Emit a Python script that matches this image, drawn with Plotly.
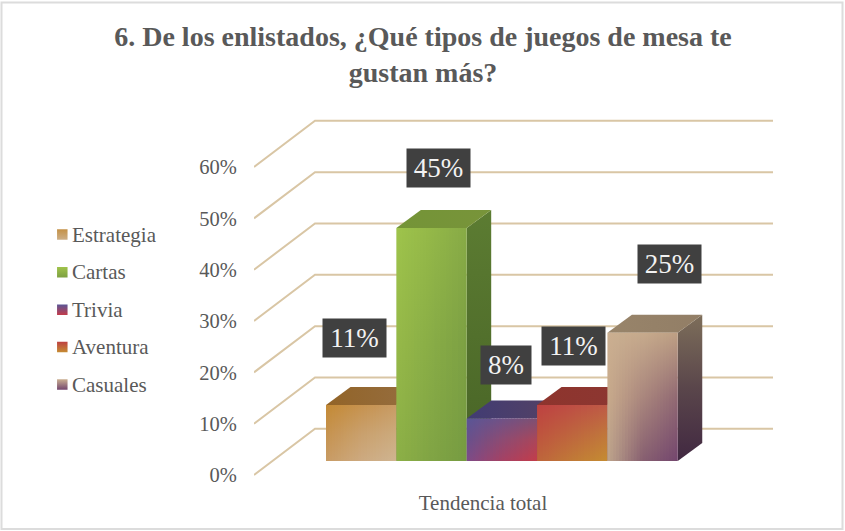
import plotly.graph_objects as go

# ---- data ----
categories = ["Estrategia", "Cartas", "Trivia", "Aventura", "Casuales"]
values = [10.9, 45.4, 8.3, 10.9, 25.0]
y_ticks = [0, 10, 20, 30, 40, 50, 60]
y_tick_labels = ["0%", "10%", "20%", "30%", "40%", "50%", "60%"]
x_category = "Tendencia total"
title_text = "6. De los enlistados, ¿Qué tipos de juegos de mesa te<br>gustan más?"

# ---- style: colours of each bar face (rows top/mid/bottom, columns left/mid/right) ----
front_colors = [
    [[(196,138,53),(198,146,78),(200,155,100)], [(198,146,78),(201,160,108),(204,170,125)], [(200,155,100),(205,170,128),(207,180,145)]],
    [[(158,195,75),(148,184,72),(135,170,70)], [(150,185,72),(136,172,70),(124,160,67)], [(140,175,70),(128,164,68),(118,155,65)]],
    [[(90,85,150),(110,82,135),(125,80,115)], [(105,80,140),(140,75,115),(170,70,90)], [(125,75,135),(165,65,100),(195,60,75)]],
    [[(190,65,65),(190,78,68),(190,90,70)], [(190,82,62),(190,100,62),(192,118,60)], [(190,100,60),(192,122,55),(197,140,50)]],
    [[(202,175,145),(198,170,140),(190,160,132)], [(200,170,140),(170,135,125),(145,105,115)], [(190,165,140),(135,95,112),(115,70,110)]],
]
side_colors = [
    [(110,80,35), (100,70,30)],
    [(92,124,50), (72,100,38)],
    [(50,48,90), (40,38,70)],
    [(120,40,35), (100,35,30)],
    [(125,110,90), (90,70,75), (65,40,65)],
]
top_colors = [
    [(146,100,40), (150,110,65)],
    [(116,148,55), (120,148,58)],
    [(65,60,115), (85,65,100)],
    [(142,52,45), (140,55,50)],
    [(152,132,106), (146,126,102)],
]
legend_colors = [((196,145,70),(205,175,135)), ((160,195,75),(125,160,65)), ((90,85,150),(195,60,75)),
                 ((190,65,65),(197,140,50)), ((202,175,145),(115,70,110))]
label_shift = [(-7, 67), (6.5, 59.5), (4.5, 53), (1.5, 59), (27, 68.5)]
legend_rows_px = [234.5, 272.2, 309.7, 347, 384.5]

FONT = "Liberation Serif"
GREY = "#595959"
GRID = "#d9c6a5"
W, H = 845, 531

# ---- scales: one x unit is one bar slot, y is the percent axis ----
SLOT = 70.35
PCT = 5.133
PX_L, PX_R, PX_0 = 254.0, 773.0, 475.0
XMAX = (PX_R - PX_L) / SLOT
Y_LO, Y_HI = -1.0, 70.0
PX_T = PX_0 - Y_HI * PCT
PX_B = PX_0 - Y_LO * PCT

WALL_DX, WALL_DY = 61.0 / SLOT, 46.2 / PCT     # floor depth up to the back wall
BAR_X0, BAR_Y0 = 72.0 / SLOT, 14.0 / PCT       # where the bars stand on the floor
BAR_DX, BAR_DY = 24.5 / SLOT, 18.0 / PCT       # depth of each bar


def rgb(c):
    return "rgb(%d,%d,%d)" % tuple(round(v) for v in c)


def mix(a, b, t):
    return tuple(p + (q - p) * t for p, q in zip(a, b))


def ramp(cols, t):
    t = min(max(t, 0.0), 1.0) * (len(cols) - 1)
    i = min(int(t), len(cols) - 2)
    return mix(cols[i], cols[i + 1], t - i)


def polygon(fig, pts, kind, cols):
    """One filled quad; cols run from the low to the high end of the gradient axis."""
    pts = pts + [pts[0]]
    xs, ys = [p[0] for p in pts], [p[1] for p in pts]
    span = xs if kind == "horizontal" else ys
    scale = [[k / (len(cols) - 1), rgb(c)] for k, c in enumerate(cols)]
    fig.add_trace(go.Scatter(
        x=xs, y=ys, mode="none", fill="toself",
        fillgradient=dict(type=kind, start=min(span), stop=max(span), colorscale=scale),
        hoverinfo="skip", showlegend=False))


def front_face(fig, x0, x1, y0, y1, rows, n):
    """Narrow overlapping strips so the colour can change in both directions."""
    for i in range(n):
        a = x0 + (x1 - x0) * i / n
        b = x0 + (x1 - x0) * min(1.0, (i + 1.6) / n)
        um = (i + 0.5) / n
        col_top, col_mid, col_bot = [ramp(r, um) for r in rows]
        polygon(fig, [(a, y1), (b, y1), (b, y0), (a, y0)], "vertical", [col_bot, col_mid, col_top])


fig = go.Figure()

# gridlines: floor diagonal plus back wall, one polyline per axis tick
for t in y_ticks:
    fig.add_trace(go.Scatter(
        x=[0, WALL_DX, XMAX], y=[t, t + WALL_DY, t + WALL_DY], mode="lines",
        line=dict(color=GRID, width=2), hoverinfo="skip", showlegend=False, cliponaxis=False))

# bars, drawn left to right so each front covers the side of the previous one
for i, (name, v) in enumerate(zip(categories, values)):
    x0, x1 = BAR_X0 + i, BAR_X0 + i + 1
    y0, y1 = BAR_Y0, BAR_Y0 + v
    polygon(fig, [(x1, y1), (x1 + BAR_DX, y1 + BAR_DY), (x1 + BAR_DX, y0 + BAR_DY), (x1, y0)],
            "vertical", side_colors[i][::-1])
    polygon(fig, [(x0 + BAR_DX, y1 + BAR_DY), (x1 + BAR_DX, y1 + BAR_DY), (x1, y1), (x0, y1)],
            "horizontal", top_colors[i])
    front_face(fig, x0, x1, y0, y1, front_colors[i], 24)

# value labels, tied to the top of each bar
annotations = []
for i, v in enumerate(values):
    annotations.append(dict(
        x=BAR_X0 + i + 0.5, y=BAR_Y0 + v, xref="x", yref="y", text=f"{round(v)}%", showarrow=False,
        xshift=label_shift[i][0], yshift=label_shift[i][1], width=61 if round(v) >= 10 else 48, height=36,
        bgcolor="#404040", font=dict(family=FONT, size=27, color="#f2f2f2"), align="center", valign="middle"))

# legend on its own small invisible subplot to the left of the axis
for name, cols, py in zip(categories, legend_colors, legend_rows_px):
    ydat = (PX_0 - py) / PCT
    fig.add_trace(go.Scatter(
        x=[62.3], y=[ydat], xaxis="x2", yaxis="y2", mode="markers", name=name,
        marker=dict(symbol="square", size=10.5, color=rgb(cols[0]), line=dict(width=0),
                    gradient=dict(type="vertical", color=rgb(cols[1]))),
        hoverinfo="skip", showlegend=False))
    annotations.append(dict(
        x=69.7, y=ydat, xref="x2", yref="y2", text=name, showarrow=False, xanchor="left",
        yanchor="middle", font=dict(family=FONT, size=21, color=GREY)))

dom_y = [(H - PX_B) / H, (H - PX_T) / H]
fig.update_layout(
    width=W, height=H,
    autosize=False,
    margin=dict(l=0, r=0, t=0, b=0, pad=0, autoexpand=False),
    paper_bgcolor="white", plot_bgcolor="rgba(0,0,0,0)",
    showlegend=False,
    title=dict(text=title_text, x=423 / W, xref="container", xanchor="center", y=1 - 46 / H, yref="container",
               yanchor="top", font=dict(family=FONT, size=28, color=GREY, weight="bold")),
    xaxis=dict(domain=[PX_L / W, PX_R / W], range=[0, XMAX], showgrid=False, zeroline=False, showline=False,
               tickmode="array", tickvals=[229.0 / SLOT], ticktext=[x_category],
               ticks="outside", ticklen=4, tickcolor="rgba(0,0,0,0)",
               tickfont=dict(family=FONT, size=21, color=GREY)),
    yaxis=dict(domain=dom_y, range=[Y_LO, Y_HI], showgrid=False, zeroline=False, showline=False,
               tickmode="array", tickvals=y_ticks, ticktext=y_tick_labels,
               ticks="outside", ticklen=12, tickcolor="rgba(0,0,0,0)",
               tickfont=dict(family=FONT, size=20.5, color=GREY)),
    xaxis2=dict(domain=[0, PX_L / W], range=[0, PX_L], visible=False, anchor="y2"),
    yaxis2=dict(domain=dom_y, range=[Y_LO, Y_HI], visible=False, anchor="x2"),
    annotations=annotations,
    shapes=[dict(type="rect", xref="paper", yref="paper",
                 x0=1.5 / W, x1=842.5 / W, y0=(H - 529) / H, y1=(H - 2.5) / H,
                 line=dict(color="#dcdcdc", width=2), layer="below")],
)
fig.write_html("out.html", config={"displayModeBar": False}, post_script="document.body.style.margin='0';")
